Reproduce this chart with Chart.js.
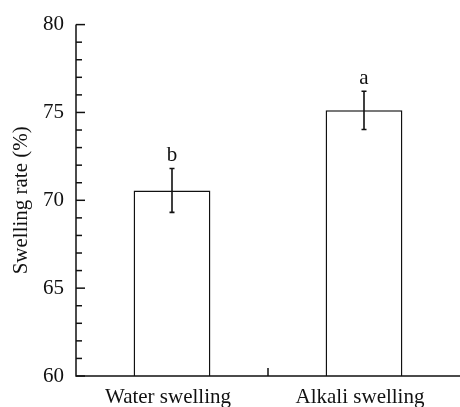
<!DOCTYPE html>
<html>
<head>
<meta charset="utf-8">
<script src="https://cdn.jsdelivr.net/npm/chart.js@4/dist/chart.umd.min.js"></script>
<style>
  html, body { margin: 0; padding: 0; background: #fff; }
  #wrap { width: 460px; height: 407px; position: relative; }
</style>
</head>
<body>
<div id="wrap"><canvas id="c" width="460" height="407"></canvas></div>
<script>
const categories = ['Water swelling', 'Alkali swelling'];
const means = [70.56, 75.12];
const errors = [1.25, 1.09];
const letters = ['b', 'a'];
const yTicks = [60, 65, 70, 75, 80];
const yMin = 60, yMax = 80;

const FONT = 'Liberation Serif';
const INK = '#111';

const decor = {
  id: 'decor',
  afterDatasetsDraw(chart) {
    const ctx = chart.ctx;
    const xs = chart.scales.x, ys = chart.scales.y;
    const area = chart.chartArea;
    ctx.save();
    ctx.strokeStyle = INK;
    ctx.fillStyle = INK;
    ctx.lineWidth = 1.6;
    means.forEach((m, i) => {
      const x = xs.getPixelForValue(i);
      const yt = ys.getPixelForValue(m + errors[i]);
      const yb = ys.getPixelForValue(m - errors[i]);
      ctx.beginPath();
      ctx.moveTo(x, yt); ctx.lineTo(x, yb);
      ctx.moveTo(x - 2.5, yt); ctx.lineTo(x + 2.5, yt);
      ctx.moveTo(x - 2.5, yb); ctx.lineTo(x + 2.5, yb);
      ctx.stroke();
      ctx.font = '21px "' + FONT + '"';
      ctx.textAlign = 'center';
      ctx.textBaseline = 'alphabetic';
      ctx.fillText(letters[i], x, yt - 7);
    });
    ctx.lineWidth = 1.5;
    ctx.beginPath();
    ctx.moveTo(area.left, ys.getPixelForValue(yMax));
    ctx.lineTo(area.left, ys.getPixelForValue(yMin));
    ctx.lineTo(area.right, ys.getPixelForValue(yMin));
    ctx.stroke();
    for (let v = yMin; v <= yMax; v += 1) {
      const y = ys.getPixelForValue(v);
      const len = yTicks.includes(v) ? 9 : 6;
      ctx.beginPath();
      ctx.moveTo(area.left, y); ctx.lineTo(area.left + len, y);
      ctx.stroke();
    }
    for (let i = 0; i < categories.length - 1; i++) {
      const xb = (xs.getPixelForValue(i) + xs.getPixelForValue(i + 1)) / 2;
      const y0 = ys.getPixelForValue(yMin);
      ctx.beginPath();
      ctx.moveTo(xb, y0); ctx.lineTo(xb, y0 - 8);
      ctx.stroke();
    }
    ctx.restore();
  }
};

new Chart(document.getElementById('c'), {
  type: 'bar',
  data: {
    labels: categories,
    datasets: [{
      data: means,
      backgroundColor: '#ffffff',
      borderColor: INK,
      borderWidth: 1.5,
      categoryPercentage: 1.0,
      barPercentage: 0.40
    }]
  },
  options: {
    responsive: false,
    animation: false,
    devicePixelRatio: 1,
    layout: { padding: { top: 21, right: 0, left: 0, bottom: 0 } },
    plugins: { legend: { display: false }, tooltip: { enabled: false } },
    scales: {
      x: {
        grid: { display: false, drawTicks: false },
        border: { display: false },
        ticks: { color: INK, padding: 9, labelOffset: -4, font: { family: FONT, size: 21 } },
        afterFit(s) { s.height = 31; }
      },
      y: {
        min: yMin, max: yMax,
        afterBuildTicks(s) { s.ticks = yTicks.map(v => ({ value: v })); },
        grid: { display: false, drawTicks: false },
        border: { display: false },
        ticks: { color: INK, padding: 12, font: { family: FONT, size: 21 } },
        title: {
          display: true, text: 'Swelling rate (%)', color: INK,
          font: { family: FONT, size: 21 }, padding: { top: 9, bottom: 0 }
        },
        afterFit(s) { s.width = 76; }
      }
    }
  },
  plugins: [decor]
});
</script>
</body>
</html>
